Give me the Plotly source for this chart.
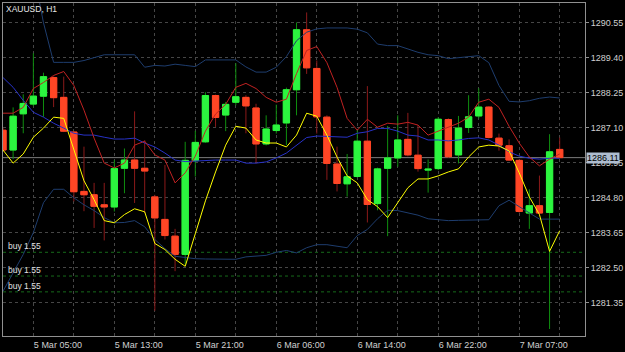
import plotly.graph_objects as go

# ---------------- data (XAUUSD, H1) ----------------
bars = list(range(56))
opens = [1287.01, 1286.36, 1287.55, 1287.87, 1288.13, 1288.74, 1288.09, 1286.95, 1285.00, 1284.89,
         1284.56, 1284.49, 1285.76, 1286.03, 1285.76, 1284.82, 1284.08, 1283.53, 1282.93, 1286.01,
         1286.63, 1288.15, 1287.51, 1287.93, 1288.09, 1287.74, 1286.56, 1287.00, 1287.25, 1288.34,
         1290.31, 1289.04, 1287.44, 1285.90, 1285.25, 1285.49, 1286.65, 1284.60, 1285.76, 1286.10,
         1286.71, 1286.19, 1285.70, 1285.75, 1287.36, 1286.20, 1287.10, 1287.48, 1287.77, 1286.75,
         1286.50, 1286.02, 1284.29, 1284.53, 1284.31, 1286.38]
highs = [1287.10, 1287.76, 1288.19, 1289.54, 1288.90, 1288.78, 1288.77, 1286.98, 1286.47, 1285.28,
         1285.28, 1286.03, 1286.41, 1287.63, 1286.68, 1284.89, 1285.87, 1283.77, 1286.63, 1286.99,
         1288.26, 1288.18, 1287.94, 1289.21, 1288.16, 1287.88, 1287.50, 1287.85, 1288.41, 1290.55,
         1290.88, 1289.30, 1287.50, 1286.47, 1286.23, 1287.01, 1288.46, 1285.78, 1287.15, 1287.50,
         1287.58, 1287.18, 1286.05, 1287.44, 1287.40, 1287.48, 1288.16, 1288.39, 1287.80, 1286.90,
         1286.71, 1286.05, 1285.07, 1285.52, 1286.88, 1286.77]
lows = [1286.30, 1286.06, 1286.91, 1287.80, 1287.45, 1287.77, 1286.95, 1284.67, 1284.35, 1283.80,
        1283.39, 1284.34, 1284.94, 1284.62, 1284.29, 1281.08, 1283.42, 1282.38, 1282.60, 1285.49,
        1286.60, 1287.12, 1286.98, 1287.83, 1286.91, 1285.92, 1286.51, 1286.90, 1286.52, 1287.50,
        1288.86, 1286.90, 1285.38, 1285.00, 1284.83, 1285.45, 1283.98, 1284.38, 1283.53, 1285.81,
        1286.15, 1285.65, 1284.96, 1285.70, 1286.10, 1285.92, 1286.92, 1287.40, 1286.74, 1286.34,
        1286.00, 1284.30, 1283.77, 1284.23, 1280.48, 1286.11]
closes = [1286.36, 1287.47, 1287.89, 1288.13, 1288.77, 1288.08, 1286.98, 1284.99, 1284.89, 1284.51,
          1284.49, 1285.75, 1286.03, 1285.76, 1285.67, 1284.13, 1283.55, 1282.93, 1286.02, 1286.61,
          1288.15, 1287.43, 1287.86, 1288.11, 1287.81, 1286.56, 1287.05, 1287.18, 1288.34, 1290.31,
          1289.06, 1287.45, 1285.92, 1285.26, 1285.48, 1286.65, 1284.57, 1285.74, 1286.10, 1286.69,
          1286.20, 1285.75, 1285.73, 1287.37, 1286.14, 1287.08, 1287.45, 1287.77, 1286.77, 1286.52,
          1286.03, 1284.34, 1284.53, 1284.29, 1286.30, 1286.11]

line_yellow = [1286.36, 1285.93, 1286.23, 1286.78, 1287.08, 1287.44, 1287.40, 1286.36, 1285.35, 1284.73,
               1284.04, 1283.97, 1284.24, 1284.43, 1284.33, 1283.29, 1283.09, 1282.77, 1282.54, 1283.61,
               1284.69, 1285.64, 1286.52, 1287.14, 1287.08, 1286.69, 1286.59, 1286.59, 1286.46, 1286.85,
               1287.57, 1287.47, 1286.85, 1286.13, 1285.51, 1285.28, 1284.73, 1284.50, 1284.14, 1284.63,
               1285.12, 1285.41, 1285.41, 1285.51, 1285.64, 1285.74, 1286.13, 1286.46, 1286.52, 1286.49,
               1286.33, 1285.61, 1284.82, 1284.24, 1283.03, 1283.71]
line_red = [1287.57, 1287.57, 1287.76, 1288.38, 1288.58, 1288.81, 1288.94, 1288.48, 1287.67, 1286.75,
            1285.93, 1285.77, 1285.93, 1286.52, 1286.65, 1286.20, 1286.03, 1285.28, 1285.61, 1286.16,
            1286.98, 1287.54, 1287.86, 1288.42, 1288.55, 1288.38, 1288.09, 1287.93, 1288.03, 1288.87,
            1289.63, 1289.76, 1289.23, 1288.42, 1287.40, 1287.01, 1287.37, 1287.11, 1287.24, 1287.21,
            1287.27, 1287.18, 1286.85, 1286.98, 1287.11, 1287.24, 1287.44, 1287.93, 1288.03, 1287.76,
            1287.14, 1286.59, 1286.13, 1285.84, 1286.06, 1286.23]
band_mid = [1288.74, 1288.42, 1287.99, 1287.60, 1287.44, 1287.24, 1287.08, 1286.91, 1286.85, 1286.85,
            1286.78, 1286.72, 1286.72, 1286.75, 1286.59, 1286.46, 1286.26, 1286.03, 1285.98, 1286.00,
            1286.02, 1286.03, 1286.03, 1286.03, 1285.93, 1285.93, 1285.97, 1286.10, 1286.26, 1286.52,
            1286.77, 1286.82, 1286.80, 1286.78, 1286.78, 1286.91, 1286.96, 1287.07, 1287.07, 1286.98,
            1286.85, 1286.82, 1286.69, 1286.69, 1286.66, 1286.69, 1286.74, 1286.76, 1286.69, 1286.52,
            1286.30, 1286.16, 1286.09, 1286.06, 1286.09, 1286.09]
band_upper = [1295.83, 1295.18, 1294.20, 1292.24, 1290.54, 1289.24, 1289.24, 1289.24, 1289.30, 1289.39,
              1289.49, 1289.49, 1289.49, 1289.49, 1289.08, 1289.14, 1289.12, 1289.18, 1289.14, 1289.10,
              1289.32, 1289.32, 1289.32, 1289.32, 1289.09, 1288.92, 1288.92, 1289.08, 1289.43, 1289.95,
              1290.23, 1290.34, 1290.37, 1290.37, 1290.37, 1290.33, 1290.21, 1289.84, 1289.79, 1289.79,
              1289.68, 1289.57, 1289.49, 1289.46, 1289.36, 1289.39, 1289.43, 1289.46, 1289.23, 1288.48,
              1287.96, 1287.94, 1287.98, 1288.06, 1288.10, 1288.07]
band_lower = [1281.72, 1282.34, 1282.93, 1283.65, 1284.63, 1285.07, 1285.07, 1284.79, 1284.56, 1284.37,
              1284.14, 1283.97, 1283.98, 1284.04, 1283.84, 1283.42, 1283.12, 1282.87, 1282.82, 1282.79,
              1282.78, 1282.77, 1282.77, 1282.77, 1282.85, 1282.87, 1282.90, 1283.00, 1283.06, 1282.98,
              1283.15, 1283.25, 1283.25, 1283.20, 1283.15, 1283.55, 1283.75, 1284.10, 1284.38, 1284.37,
              1284.30, 1284.22, 1284.10, 1284.06, 1284.04, 1284.05, 1284.06, 1284.06, 1284.07, 1284.53,
              1284.71, 1284.50, 1284.29, 1284.09, 1284.09, 1284.09]

buy_levels = [1283.00, 1282.22, 1281.70]
buy_labels = ["buy 1.55", "buy 1.55", "buy 1.55"]

grid_bars = list(range(3, 56, 4))
label_bars = [3, 11, 19, 27, 35, 43, 51]
label_texts = ["5 Mar 05:00", "5 Mar 13:00", "5 Mar 21:00", "6 Mar 06:00",
               "6 Mar 14:00", "6 Mar 22:00", "7 Mar 07:00"]
price_ticks = [1281.35, 1282.50, 1283.65, 1284.80, 1285.95, 1287.10, 1288.25, 1289.40, 1290.55]

symbol_title = "XAUUSD, H1"

# ---------------- styles ----------------
BULL = "#2cf53f"
BEAR = "#ff4625"
BULL_WICK = "#0f8f0f"
BEAR_WICK = "#8b1a1a"
GRID = "#464646"
BORDER = "#909090"
TXT = "#d0d0d0"
FONT = "Liberation Sans"

body_high = [max(o, c) for o, c in zip(opens, closes)]
body_low = [min(o, c) for o, c in zip(opens, closes)]

fig = go.Figure()

# full candles (wicks)
fig.add_trace(go.Candlestick(
    x=bars, open=opens, high=highs, low=lows, close=closes,
    increasing=dict(line=dict(color=BULL_WICK, width=1), fillcolor=BULL),
    decreasing=dict(line=dict(color=BEAR_WICK, width=1), fillcolor=BEAR),
    whiskerwidth=0, showlegend=False, hoverinfo="skip"))
# bodies with bright outlines
fig.add_trace(go.Candlestick(
    x=bars, open=opens, high=body_high, low=body_low, close=closes,
    increasing=dict(line=dict(color=BULL, width=1), fillcolor=BULL),
    decreasing=dict(line=dict(color=BEAR, width=1), fillcolor=BEAR),
    whiskerwidth=0, showlegend=False, hoverinfo="skip"))

for vals, col in [(band_upper, "#1e3d6e"), (band_lower, "#1e3d6e"),
                  (band_mid, "#2832c8"), (line_red, "#c02222"), (line_yellow, "#ffff00")]:
    fig.add_trace(go.Scatter(x=bars, y=vals, mode="lines",
                             line=dict(color=col, width=1), showlegend=False,
                             hoverinfo="skip", cliponaxis=True))

shapes = []
for lv in buy_levels:
    shapes.append(dict(type="line", xref="paper", x0=0, x1=1, yref="y", y0=lv, y1=lv,
                       line=dict(color="#166a1a", width=1, dash="3px,3px"), layer="below"))
shapes.append(dict(type="line", xref="paper", x0=0, x1=1, yref="y",
                   y0=closes[-1], y1=closes[-1],
                   line=dict(color="#7c7c7c", width=1), layer="below"))

annotations = [dict(text=symbol_title, xref="paper", yref="paper", x=0, y=1,
                    xanchor="left", yanchor="top", xshift=1, yshift=1, showarrow=False,
                    font=dict(family=FONT, size=8.5, color="#e6e6e6"))]
for lv, lab in zip(buy_levels, buy_labels):
    annotations.append(dict(text=lab, xref="paper", yref="y", x=0, y=lv,
                            xanchor="left", yanchor="bottom", xshift=3, yshift=-1,
                            showarrow=False,
                            font=dict(family=FONT, size=8.5, color="#e0e0e0")))
annotations.append(dict(text=f"{closes[-1]:.2f}", xref="paper", yref="y", x=1, y=closes[-1],
                        xanchor="left", yanchor="middle", xshift=1, showarrow=False,
                        bgcolor="#aebdd0", borderpad=0,
                        font=dict(family=FONT, size=9, color="#000000")))

tick_text = [label_texts[label_bars.index(b)] if b in label_bars else "" for b in grid_bars]

fig.update_layout(
    width=625, height=352,
    margin=dict(l=2, r=37, t=2, b=15),
    paper_bgcolor="#000000", plot_bgcolor="#000000",
    boxgap=0.38, boxgroupgap=0,
    shapes=shapes, annotations=annotations,
    font=dict(family=FONT, size=9, color=TXT),
    xaxis=dict(range=[0.0, 57.5], tickmode="array", tickvals=grid_bars, ticktext=tick_text,
               ticklabelposition="outside right",
               showgrid=True, gridcolor=GRID, griddash="3px,3px", gridwidth=1,
               showline=True, mirror=True, linecolor=BORDER, linewidth=1,
               zeroline=False, ticks="", rangeslider=dict(visible=False),
               tickfont=dict(family=FONT, size=9, color=TXT), fixedrange=True),
    yaxis=dict(range=[1280.25, 1291.19], side="right", tickmode="array",
               tickvals=price_ticks, tickformat=".2f",
               showgrid=True, gridcolor=GRID, griddash="3px,3px", gridwidth=1,
               showline=True, mirror=True, linecolor=BORDER, linewidth=1,
               zeroline=False, ticks="outside", ticklen=3, tickcolor=BORDER,
               tickfont=dict(family=FONT, size=9, color=TXT), fixedrange=True),
)

fig.write_html("out.html")
